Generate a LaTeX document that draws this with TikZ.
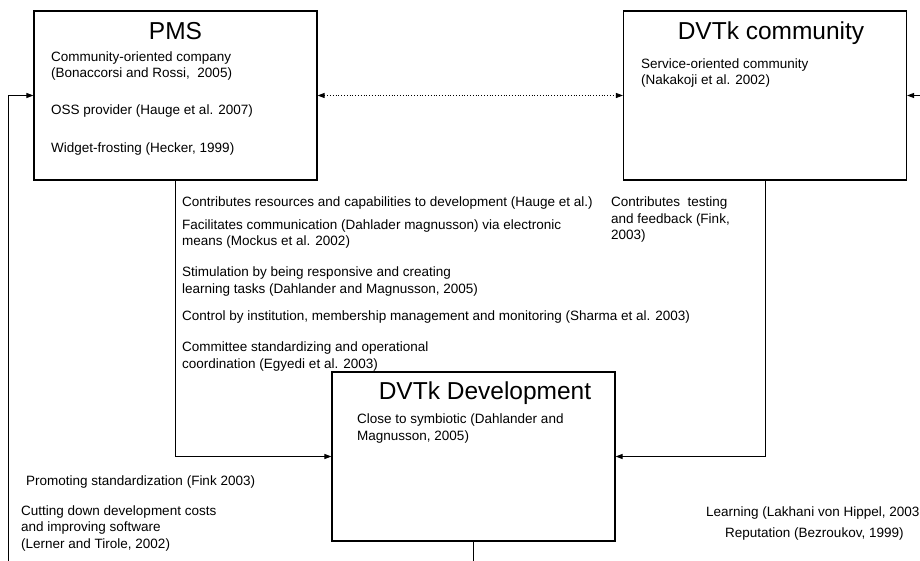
\documentclass[tikz,border=0pt]{standalone}
\usepackage{fontspec}
\setmainfont{Liberation Sans}
\usetikzlibrary{positioning, arrows.meta}

\begin{document}
\begin{tikzpicture}[
    x=1pt, y=-1pt,
    box/.style={rectangle, draw, line width=1.1pt, minimum width=283pt, minimum height=169pt, inner sep=0pt},
    title/.style={anchor=base, font=\fontsize{24.5}{28}\selectfont},
    txt/.style={anchor=base west, inner sep=0pt, align=left, font=\fontsize{13.5}{16.5}\selectfont},
    conn/.style={line width=0.9pt, -{Triangle[length=7pt, width=5pt]}},
    link/.style={line width=0.8pt, dotted, {Triangle[length=7pt, width=5pt]}-{Triangle[length=7pt, width=5pt]}}
]
    \useasboundingbox (0,0) rectangle (920,561);

    % --- boxes ---
    \node[box] (pms)  at (175.5, 95.5)  {};
    \node[box] (comm) at (765, 95.5)    {};
    \node[box] (dev)  at (473.5, 456.5) {};

    \node[title] (tpms)  at (175.5, 40) {PMS};
    \node[title] (tcomm) at (771, 40)   {DVTk community};
    \node[title] (tdev)  at (485, 399)  {DVTk Development};

    % --- text inside the boxes (base = last line) ---
    \node[txt] (p1) at (51, 78)  {Community-oriented company\\(Bonaccorsi and Rossi,\ \ 2005)};
    \node[txt] (p2) at (51, 115) {OSS provider (Hauge et al. 2007)};
    \node[txt] (p3) at (51, 153) {Widget-frosting (Hecker, 1999)};

    \node[txt] (c1) at (641, 85) {Service-oriented community\\(Nakakoji et al. 2002)};

    \node[txt] (d1) at (357, 440) {Close to symbiotic (Dahlander and\\Magnusson, 2005)};

    % --- relations between boxes ---
    \node[txt] (r1) at (182, 207) {Contributes resources and capabilities to development (Hauge et al.)};
    \node[txt] (r2) at (182, 246) {Facilitates communication (Dahlader magnusson) via electronic\\means (Mockus et al. 2002)};
    \node[txt] (r3) at (182, 293) {Stimulation by being responsive and creating\\learning tasks (Dahlander and Magnusson, 2005)};
    \node[txt] (r4) at (182, 320) {Control by institution, membership management and monitoring (Sharma et al. 2003)};
    \node[txt] (r5) at (182, 368) {Committee standardizing and operational\\coordination (Egyedi et al. 2003)};

    \node[txt] (r6) at (611, 240) {Contributes\ \ testing\\and feedback (Fink,\\2003)};

    % --- motives ---
    \node[txt] (m1) at (26, 485) {Promoting standardization (Fink 2003)};
    \node[txt] (m2) at (21, 548) {Cutting down development costs\\and improving software\\(Lerner and Tirole, 2002)};
    \node[txt] (m3) at (706, 516) {Learning (Lakhani von Hippel, 2003};
    \node[txt] (m4) at (725, 537) {Reputation (Bezroukov, 1999)};

    % --- connectors ---
    \coordinate (loopin) at (8, 561);
    \coordinate (rightin) at (920, 95.5);
    \coordinate (devout) at (473.5, 561);

    \draw[link] (pms.east) -- (comm.west);
    \draw[conn] (loopin) |- (pms.west);
    \draw[conn] (rightin) -- (comm.east);
    \draw[conn] (pms.south) |- (dev.west);
    \draw[conn] (comm.south) |- (dev.east);
    \draw[line width=0.9pt] (dev.south) -- (devout);
\end{tikzpicture}
\end{document}
